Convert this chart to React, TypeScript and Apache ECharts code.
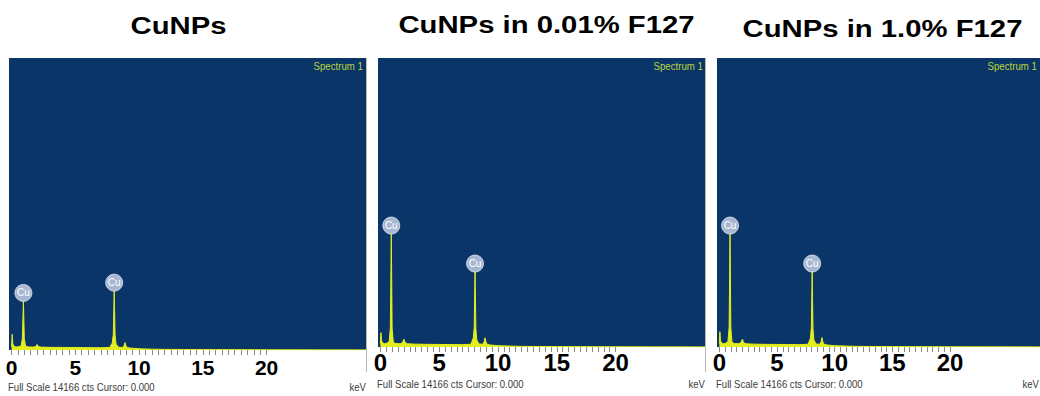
import React, { useEffect, useRef } from "react";
import * as echarts from "echarts";

const panelTitles = ["CuNPs", "CuNPs in 0.01% F127", "CuNPs in 1.0% F127"];
const spectrumName = "Spectrum 1";
const footerText = "Full Scale 14166 cts Cursor: 0.000";
const unitText = "keV";
const fullScaleCounts = 14166;

const energyKeV = [
  0, 0.05, 0.1, 0.2, 0.35, 0.55, 0.75, 0.85, 0.93, 1.0,
  1.1, 1.3, 1.7, 1.9, 2.0, 2.1, 2.3, 3.0, 4.0, 5.0,
  6.0, 7.0, 7.7, 7.9, 7.98, 8.05, 8.12, 8.2, 8.4, 8.7,
  8.82, 8.9, 8.98, 9.1, 9.4, 10.0, 11.0, 12.0, 15.0, 20.0,
  27.8,
];

const countsCuNPs = [
  160, 760, 300, 170, 150, 160, 200, 560, 2380, 540,
  190, 150, 140, 170, 270, 170, 140, 130, 125, 120,
  115, 110, 125, 340, 760, 2880, 720, 280, 130, 125,
  210, 360, 200, 115, 90, 60, 40, 30, 20, 10,
  5,
];

const countsF127Low = [
  170, 700, 320, 190, 160, 180, 270, 950, 5560, 930,
  230, 170, 160, 230, 380, 220, 160, 140, 130, 125,
  120, 115, 135, 440, 950, 3700, 900, 340, 145, 135,
  250, 450, 240, 125, 95, 65, 45, 30, 20, 10,
  5,
];

const countsF127High = [
  170, 750, 330, 190, 160, 180, 270, 960, 5560, 940,
  230, 170, 160, 230, 390, 220, 160, 140, 130, 125,
  120, 115, 135, 440, 960, 3700, 910, 340, 145, 135,
  250, 460, 240, 125, 95, 65, 45, 30, 20, 10,
  5,
];

const cuLineEnergies = [0.93, 8.05];
const cuLabel = "Cu";
const tickLabelValues = [0, 5, 10, 15, 20];
const minorTickValues = Array.from({ length: 41 }, (_, i) => i * 0.5);

const panelCounts = [countsCuNPs, countsF127Low, countsF127High];

// layout (pixels)
const layout = [
  { left: 9, top: 58, width: 357, height: 292, xMax: 27.8, labelSize: 21, labelMargin: 7, titleX: 178.5, titleY: 25.5, footY: 387, specRight: 363, unitRight: 366 },
  { left: 378, top: 58, width: 327, height: 289, xMax: 27.6, labelSize: 24, labelMargin: 3, titleX: 546.5, titleY: 25, footY: 384, specRight: 703, unitRight: 705 },
  { left: 717, top: 58, width: 330, height: 289, xMax: 27.8, labelSize: 24, labelMargin: 3, titleX: 882.5, titleY: 28.5, footY: 384, specRight: 1037, unitRight: 1039 },
];

const BLUE = "#0a3568";
const YELLOW = "#e2ee1e";
const FONT = '"Liberation Sans", Arial, Helvetica, sans-serif';

export default function App() {
  const ref = useRef<HTMLDivElement>(null);

  useEffect(() => {
    if (!ref.current) return;
    const chart = echarts.init(ref.current, null, { renderer: "svg" });

    const grids = layout.map((p) => ({
      left: p.left,
      top: p.top,
      width: p.width,
      height: p.height,
      show: true,
      backgroundColor: BLUE,
      borderWidth: 0,
      containLabel: false,
    }));

    const xAxes = layout.map((p, i) => ({
      type: "value",
      gridIndex: i,
      min: -0.2,
      max: p.xMax,
      splitLine: { show: false },
      axisLine: { show: false },
      axisTick: {
        show: true,
        customValues: minorTickValues,
        length: 5,
        lineStyle: { color: "#8c8c7c", width: 1 },
      },
      axisLabel: {
        show: true,
        customValues: tickLabelValues,
        fontSize: p.labelSize,
        fontWeight: "bold",
        fontFamily: FONT,
        color: "#000",
        margin: p.labelMargin,
      },
    }));

    const yAxes = layout.map((_, i) => ({
      type: "value",
      gridIndex: i,
      min: 0,
      max: fullScaleCounts,
      show: false,
      splitLine: { show: false },
    }));

    const series = panelCounts.map((counts, i) => ({
      type: "line",
      xAxisIndex: i,
      yAxisIndex: i,
      data: energyKeV.map((e, j) => [e, counts[j]]),
      showSymbol: false,
      symbol: "none",
      lineStyle: { color: YELLOW, width: 1 },
      areaStyle: { color: YELLOW, opacity: 1 },
      silent: true,
      markPoint: {
        symbol: "circle",
        symbolSize: 17,
        symbolOffset: [0, -8],
        itemStyle: {
          color: "rgba(172,188,214,0.97)",
          borderColor: "rgba(225,232,245,0.8)",
          borderWidth: 1,
        },
        label: {
          show: true,
          formatter: cuLabel,
          position: "inside",
          color: "#ffffff",
          fontSize: 10,
          fontFamily: FONT,
        },
        data: cuLineEnergies.map((e) => ({
          coord: [e, counts[energyKeV.indexOf(e)]],
        })),
      },
    }));

    const graphics: any[] = [];
    layout.forEach((p, i) => {
      graphics.push({
        type: "text",
        x: p.titleX,
        y: p.titleY,
        scaleX: 1.22,
        style: {
          text: panelTitles[i],
          font: `bold 24px ${FONT}`,
          fill: "#000",
          textAlign: "center",
          textVerticalAlign: "middle",
        },
      });
      graphics.push({
        type: "text",
        x: p.specRight,
        y: 66,
        scaleX: 0.88,
        style: {
          text: spectrumName,
          font: `11px ${FONT}`,
          fill: "#bcd63a",
          textAlign: "right",
          textVerticalAlign: "middle",
        },
      });
      graphics.push({
        type: "text",
        x: p.left - 1,
        y: p.footY,
        scaleX: 0.87,
        style: {
          text: footerText,
          font: `11px ${FONT}`,
          fill: "#3c3c3c",
          textAlign: "left",
          textVerticalAlign: "middle",
        },
      });
      graphics.push({
        type: "text",
        x: p.unitRight,
        y: p.footY,
        scaleX: 0.87,
        style: {
          text: unitText,
          font: `11px ${FONT}`,
          fill: "#3c3c3c",
          textAlign: "right",
          textVerticalAlign: "middle",
        },
      });
      if (i < 2) {
        graphics.push({
          type: "line",
          shape: { x1: p.left + p.width + 0.5, y1: p.top, x2: p.left + p.width + 0.5, y2: 372 },
          style: { stroke: "#b8b8b8", lineWidth: 1 },
        });
      }
    });

    chart.setOption({
      animation: false,
      backgroundColor: "#ffffff",
      grid: grids,
      xAxis: xAxes,
      yAxis: yAxes,
      series,
      graphic: graphics,
    });

    return () => chart.dispose();
  }, []);

  return (
    <div
      ref={ref}
      style={{ position: "fixed", left: 0, top: 0, width: 1040, height: 396 }}
    />
  );
}
